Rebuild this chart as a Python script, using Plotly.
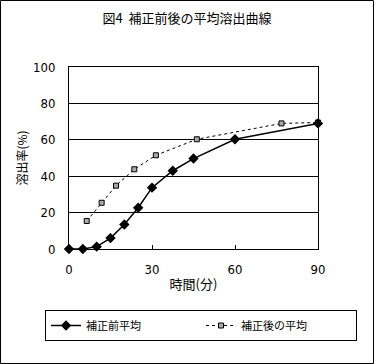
import plotly.graph_objects as go

# Data
before_t = [0, 5, 10, 15, 20, 25, 30, 37.5, 45, 60, 90]
before_v = [0, 0, 1.3, 6, 13.5, 22.7, 33.7, 43, 49.7, 60.3, 69]
after_t = [6.4, 11.8, 17, 23.6, 31.4, 46.2, 76.8, 90]
after_v = [15.4, 25.4, 34.8, 43.8, 51.5, 60.3, 69, 69.5]
names = ["補正前平均", "補正後の平均"]
title = "図4  補正前後の平均溶出曲線"
x_title = "時間(分)"
y_title = "溶出率(%)"
x_ticks = [0, 30, 60, 90]
y_ticks = [0, 20, 40, 60, 80, 100]

cjk = "Noto Sans CJK JP"
num = "DejaVu Sans Condensed, Liberation Sans Narrow, sans-serif"

fig = go.Figure()
fig.add_trace(go.Scatter(
    x=after_t, y=after_v, name=names[1], mode="lines+markers",
    line=dict(color="black", width=1, dash="dot"),
    marker=dict(symbol="square", size=5, color="#aaaaaa",
                line=dict(color="black", width=1)),
    cliponaxis=False))
fig.add_trace(go.Scatter(
    x=before_t, y=before_v, name=names[0], mode="lines+markers",
    line=dict(color="black", width=1.5),
    marker=dict(symbol="diamond", size=8, color="black"),
    cliponaxis=False))

W, H = 374, 364
L, R, T, B = 69, 318, 67, 249
fig.update_layout(
    width=W, height=H,
    margin=dict(l=L, r=W - R, t=T, b=H - B),
    paper_bgcolor="white", plot_bgcolor="white",
    showlegend=True,
    title=dict(text=title, x=0.5, xanchor="center", y=1 - 18 / H, yanchor="middle",
               font=dict(family=cjk, size=13, color="black")),
    xaxis=dict(range=[0, 90], tickvals=x_ticks, showgrid=False, automargin=False,
               showline=True, linecolor="black", linewidth=1, mirror=True,
               ticks="inside", ticklen=4, tickcolor="black", ticklabelstandoff=8,
               tickfont=dict(family=num, size=13, color="black"),
               title=dict(text=x_title, font=dict(family=cjk, size=13, color="black"),
                          standoff=4),
               zeroline=False),
    yaxis=dict(range=[0, 100], tickvals=y_ticks, showgrid=True, automargin=False,
               gridcolor="black", gridwidth=1,
               showline=True, linecolor="black", linewidth=1, mirror=True,
               ticks="", ticklabelstandoff=10,
               tickfont=dict(family=num, size=13, color="black"),
               title=dict(text=y_title, font=dict(family=cjk, size=12, color="black"),
                          standoff=2),
               zeroline=False),
    legend=dict(orientation="h", x=(45 - L) / (R - L), xanchor="left",
                y=(B - 310) / (B - T), yanchor="top",
                bordercolor="black", borderwidth=1, bgcolor="white",
                font=dict(family=cjk, size=11, color="black"),
                traceorder="reversed", entrywidth=110, entrywidthmode="pixels"),
    shapes=[dict(type="rect", xref="paper", yref="paper",
                 x0=(0.5 - L) / (R - L), x1=(W - 0.5 - L) / (R - L),
                 y0=(B - (H - 0.5)) / (B - T), y1=(B - 0.5) / (B - T),
                 line=dict(color="black", width=1))],
)

fig.write_html("out.html", config={"displayModeBar": False},
               post_script="document.body.style.margin='0';")
